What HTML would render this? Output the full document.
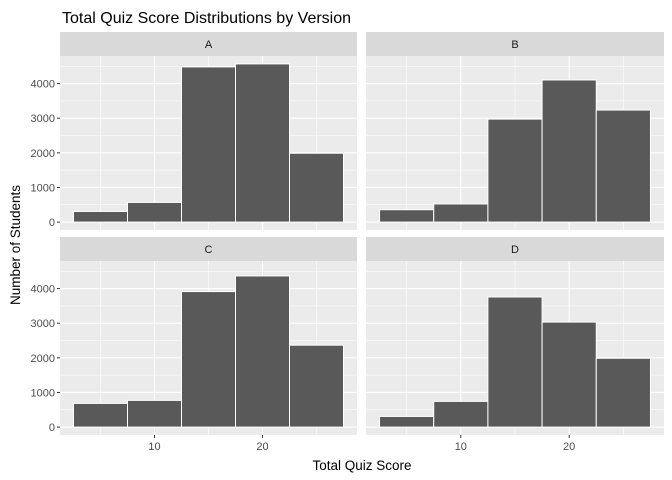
<!DOCTYPE html>
<html><head><meta charset="utf-8"><style>
html,body{margin:0;padding:0;background:#fff;}
svg{display:block;font-family:"Liberation Sans",Arial,sans-serif;}
</style></head><body>
<svg id="chart" width="672" height="480" xmlns="http://www.w3.org/2000/svg">
<text x="62" y="23" font-size="16" fill="#000">Total Quiz Score Distributions by Version</text>
<text transform="translate(20,245) rotate(-90)" text-anchor="middle" font-size="13.5" fill="#000">Number of Students</text>
<text x="362" y="470" text-anchor="middle" font-size="13.5" fill="#000">Total Quiz Score</text>
</svg>
<script>
const versions = ["A","B","C","D"];
const binCenters = [5,10,15,20,25];
const countsA = [307,568,4481,4568,1988];
const countsB = [357,523,2974,4104,3235];
const countsC = [684,771,3913,4365,2365];
const countsD = [307,742,3757,3032,1988];
const yTicks = [0,1000,2000,3000,4000];
const xTicks = [10,20];
const binWidth = 5;

const allCounts = [countsA,countsB,countsC,countsD];
const svg = document.getElementById('chart');
const NS = 'http://www.w3.org/2000/svg';
function mk(tag, attrs){ const e=document.createElementNS(NS,tag); for(const k in attrs) e.setAttribute(k,attrs[k]); svg.appendChild(e); return e; }

const lo = binCenters[0]-binWidth/2, hi = binCenters[binCenters.length-1]+binWidth/2;
const xPad = (hi-lo)*0.05;
const xMin = lo-xPad, xMax = hi+xPad;
let maxC = 0; allCounts.forEach(a=>a.forEach(v=>{ if(v>maxC) maxC=v; }));
const yMin = -maxC*0.05, yMax = maxC*1.05;

const panels = [
 {x0:60, x1:357, top:56, bottom:230, stripTop:32},
 {x0:366, x1:664, top:56, bottom:230, stripTop:32},
 {x0:60, x1:357, top:261, bottom:435, stripTop:237},
 {x0:366, x1:664, top:261, bottom:435, stripTop:237}
];

panels.forEach((p,i)=>{
  const sx = v => p.x0 + (v-xMin)/(xMax-xMin)*(p.x1-p.x0);
  const sy = v => p.bottom - (v-yMin)/(yMax-yMin)*(p.bottom-p.top);
  const bg = mk('rect',{x:p.x0,y:p.top,width:p.x1-p.x0,height:p.bottom-p.top,fill:'#EBEBEB'});
  
  
  // minor grid
  for(let v=yTicks[0]+500; v<yMax; v+=1000){
    const l=mk('line',{x1:p.x0,x2:p.x1,y1:sy(v),y2:sy(v),stroke:'#fff','stroke-width':0.55});
    
    
  }
  [5,15,25].forEach(v=>{
    const l=mk('line',{x1:sx(v),x2:sx(v),y1:p.top,y2:p.bottom,stroke:'#fff','stroke-width':0.55});
    
    
  });
  yTicks.forEach(v=>{
    const l=mk('line',{x1:p.x0,x2:p.x1,y1:sy(v),y2:sy(v),stroke:'#fff','stroke-width':1.1});
    
    
  });
  xTicks.forEach(v=>{
    const l=mk('line',{x1:sx(v),x2:sx(v),y1:p.top,y2:p.bottom,stroke:'#fff','stroke-width':1.1});
    
    
  });
  // bars
  allCounts[i].forEach((c,j)=>{
    const b=mk('rect',{x:sx(binCenters[j]-binWidth/2),y:sy(c),width:sx(binCenters[j]+binWidth/2)-sx(binCenters[j]-binWidth/2),height:sy(0)-sy(c),fill:'#595959',stroke:'#fff','stroke-width':1});
    
    
  });
  // strip
  const st=mk('rect',{x:p.x0,y:p.stripTop,width:p.x1-p.x0,height:p.top-p.stripTop,fill:'#D9D9D9'});
  
  
  const stt=mk('text',{x:(p.x0+p.x1)/2,y:p.stripTop+16,'text-anchor':'middle','font-size':11,fill:'#1A1A1A'});
  stt.textContent=versions[i];
  
  
  // y axis on left panels
  if(i%2===0){
    yTicks.forEach(v=>{
      const t=mk('line',{x1:p.x0-3,x2:p.x0,y1:sy(v),y2:sy(v),stroke:'#333','stroke-width':1});
      
      
      const tl=mk('text',{x:p.x0-5,y:sy(v)+4,'text-anchor':'end','font-size':11,fill:'#4D4D4D'});
      tl.textContent=v;
      
      
    });
  }
  if(i>=2){
    xTicks.forEach(v=>{
      const t=mk('line',{x1:sx(v),x2:sx(v),y1:p.bottom,y2:p.bottom+3,stroke:'#333','stroke-width':1});
      
      
      const tl=mk('text',{x:sx(v),y:p.bottom+15,'text-anchor':'middle','font-size':11,fill:'#4D4D4D'});
      tl.textContent=v;
      
      
    });
  }
});
</script>
</body></html>
